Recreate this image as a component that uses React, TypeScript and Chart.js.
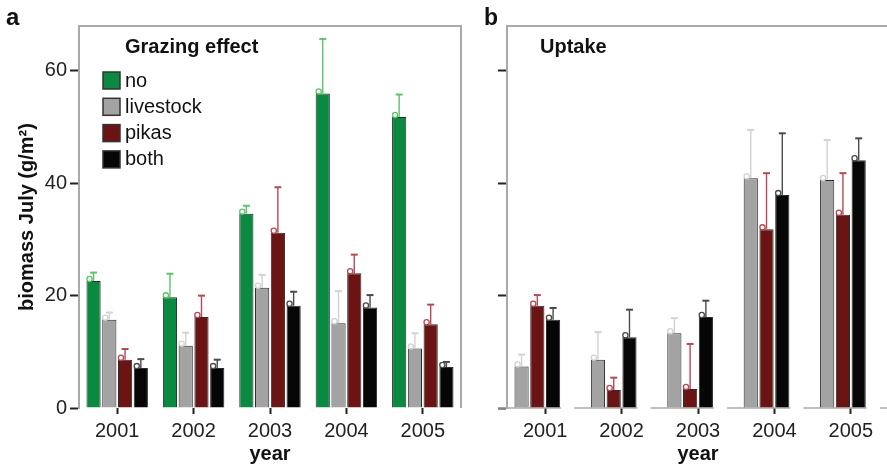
import React, { useEffect, useRef } from "react";
import { Chart, registerables } from "chart.js";

Chart.register(...registerables);

const FONT = "'Liberation Sans', Arial, Helvetica, sans-serif";

// ---- categories / labels ----
const years = ["2001", "2002", "2003", "2004", "2005"];
const seriesNames = ["no", "livestock", "pikas", "both"];
const yTickValues = [0, 20, 40, 60];

// ---- panel a: Grazing effect (mean, upper error bound) ----
const grazeNo = [22.6, 19.7, 34.6, 56.0, 51.8];
const grazeNoErr = [24.1, 23.9, 36.0, 65.7, 55.8];
const grazeLivestock = [15.7, 11.1, 21.4, 15.1, 10.6];
const grazeLivestockErr = [17.0, 13.4, 23.7, 20.8, 13.3];
const grazePikas = [8.6, 16.2, 31.2, 24.0, 14.9];
const grazePikasErr = [10.5, 20.0, 39.3, 27.3, 18.4];
const grazeBoth = [7.1, 7.1, 18.2, 17.9, 7.3];
const grazeBothErr = [8.7, 8.6, 20.7, 20.1, 8.2];

// ---- panel b: Uptake ----
const uptakeLivestock = [7.4, 8.6, 13.3, 40.9, 40.6];
const uptakeLivestockErr = [9.5, 13.5, 16.0, 49.5, 47.7];
const uptakePikas = [18.2, 3.2, 3.4, 31.8, 34.4];
const uptakePikasErr = [20.1, 5.4, 11.4, 41.8, 41.8];
const uptakeBoth = [15.7, 12.6, 16.2, 37.9, 44.1];
const uptakeBothErr = [17.8, 17.5, 19.1, 48.9, 48.0];
const uptakeNo = [null, null, null, null, null];

// ---- styles ----
const fillColors = ["#0a8a40", "#a3a3a3", "#6b1414", "#060606"];
const errColors = ["#5cc46a", "#d2d2d2", "#b54a56", "#4a4a4a"];
const frameColor = "#a9a9a9";

const errorBarPlugin = {
  id: "errorBars",
  afterDatasetsDraw(chart: any) {
    const ctx = chart.ctx;
    const yScale = chart.scales.y;
    chart.data.datasets.forEach((ds: any, i: number) => {
      if (!ds.errTop) return;
      const meta = chart.getDatasetMeta(i);
      meta.data.forEach((bar: any, j: number) => {
        const v = ds.data[j];
        if (v == null) return;
        const p = bar.getProps(["x", "y", "width"], true);
        const yTop = yScale.getPixelForValue(ds.errTop[j]);
        ctx.save();
        ctx.strokeStyle = ds.errColor;
        ctx.lineWidth = 1.4;
        ctx.beginPath();
        ctx.moveTo(p.x, p.y);
        ctx.lineTo(p.x, yTop);
        ctx.stroke();
        ctx.lineWidth = 2;
        ctx.beginPath();
        ctx.moveTo(p.x - 3.5, yTop);
        ctx.lineTo(p.x + 3.5, yTop);
        ctx.stroke();
        ctx.lineWidth = 1.3;
        ctx.beginPath();
        ctx.arc(p.x - p.width / 2 + 3, p.y - 2, 2.6, 0, Math.PI * 2);
        ctx.stroke();
        ctx.restore();
      });
    });
  },
};

function makeDataset(label: string, data: any[], err: any[] | null, idx: number) {
  return {
    label,
    data,
    errTop: err,
    errColor: errColors[idx],
    backgroundColor: fillColors[idx],
    borderColor: "#2a2a2a",
    borderWidth: 1,
  };
}

function baseOptions(padRight: number, yWidth: number, showYLabels: boolean, extraTitleY: boolean) {
  return {
    responsive: false,
    animation: false,
    layout: { padding: { top: 26, right: padRight, left: 0, bottom: 0 } },
    plugins: { legend: { display: false }, tooltip: { enabled: false } },
    datasets: { bar: { categoryPercentage: 0.825, barPercentage: 0.9 } },
    scales: {
      x: {
        grid: {
          drawOnChartArea: false,
          offset: false,
          tickLength: 6,
          tickColor: "#222",
          tickWidth: 2,
        },
        border: { display: false },
        ticks: { font: { family: FONT, size: 20 }, color: "#222", padding: 5, maxRotation: 0 },
        title: {
          display: true,
          text: "year",
          font: { family: FONT, size: 20, weight: "bold" },
          color: "#111",
          padding: { top: 0, bottom: 4 },
        },
        afterFit: (s: any) => {
          s.height = 62;
        },
      },
      y: {
        min: 0,
        max: 68,
        afterBuildTicks: (s: any) => {
          s.ticks = yTickValues.map((v) => ({ value: v }));
        },
        grid: {
          drawOnChartArea: false,
          tickLength: 9,
          tickColor: "#222",
          tickWidth: 2,
        },
        border: { display: true, color: frameColor, width: 2 },
        ticks: {
          display: showYLabels,
          font: { family: FONT, size: 20 },
          color: "#222",
          padding: 3,
        },
        title: {
          display: extraTitleY,
          text: "biomass July (g/m²)",
          font: { family: FONT, size: 20, weight: "bold" },
          color: "#111",
          padding: { top: 15, bottom: 0 },
        },
        afterFit: (s: any) => {
          s.width = yWidth;
        },
      },
    },
  };
}

const leftDeco = {
  id: "leftDeco",
  afterDraw(chart: any) {
    const { ctx, chartArea: ca } = chart;
    ctx.save();
    ctx.strokeStyle = frameColor;
    ctx.lineWidth = 2;
    ctx.beginPath();
    ctx.moveTo(ca.left - 1, ca.top);
    ctx.lineTo(ca.right, ca.top);
    ctx.lineTo(ca.right, ca.bottom);
    ctx.stroke();

    ctx.fillStyle = "#111";
    ctx.textBaseline = "alphabetic";
    ctx.textAlign = "left";
    ctx.font = `bold 24px ${FONT}`;
    ctx.fillText("a", 6, 25);
    ctx.font = `bold 20px ${FONT}`;
    ctx.fillText("Grazing effect", ca.left + 46, 53);

    // legend
    const bx = ca.left + 24;
    const by0 = 72;
    const step = 26.3;
    seriesNames.forEach((name, i) => {
      const y = by0 + i * step;
      ctx.fillStyle = fillColors[i];
      ctx.fillRect(bx, y, 17, 17);
      ctx.strokeStyle = "#333";
      ctx.lineWidth = 1.5;
      ctx.strokeRect(bx, y, 17, 17);
      ctx.fillStyle = "#111";
      ctx.font = `20px ${FONT}`;
      ctx.textBaseline = "middle";
      ctx.fillText(name, bx + 22, y + 9);
    });
    ctx.restore();
  },
};

const rightDeco = {
  id: "rightDeco",
  beforeDatasetsDraw(chart: any) {
    const { ctx, chartArea: ca, scales } = chart;
    const xs = scales.x;
    const n = years.length;
    const catW = (ca.right - ca.left) / n;
    const groupW = catW * 0.825;
    const slotW = groupW / 4;
    ctx.save();
    ctx.strokeStyle = frameColor;
    ctx.lineWidth = 1.5;
    for (let i = 0; i <= n; i++) {
      const c = i < n ? xs.getPixelForValue(i) : xs.getPixelForValue(n - 1) + catW;
      const x0 = c - groupW / 2 - slotW;
      ctx.beginPath();
      ctx.moveTo(x0, ca.bottom);
      ctx.lineTo(x0 + groupW, ca.bottom);
      ctx.stroke();
    }
    ctx.restore();
  },
  afterDraw(chart: any) {
    const { ctx, chartArea: ca, width } = chart;
    ctx.save();
    ctx.strokeStyle = frameColor;
    ctx.lineWidth = 2;
    ctx.beginPath();
    ctx.moveTo(ca.left - 1, ca.top);
    ctx.lineTo(width, ca.top);
    ctx.stroke();
    ctx.fillStyle = "#111";
    ctx.textBaseline = "alphabetic";
    ctx.textAlign = "left";
    ctx.font = `bold 23px ${FONT}`;
    ctx.fillText("b", 14, 25);
    ctx.font = `bold 20px ${FONT}`;
    ctx.fillText("Uptake", ca.left + 33, 53);
    ctx.restore();
  },
};

export default function App() {
  const leftRef = useRef<HTMLCanvasElement | null>(null);
  const rightRef = useRef<HTMLCanvasElement | null>(null);

  useEffect(() => {
    Chart.defaults.font.family = FONT;
    const left = new Chart(leftRef.current as HTMLCanvasElement, {
      type: "bar",
      data: {
        labels: years,
        datasets: [
          makeDataset(seriesNames[0], grazeNo, grazeNoErr, 0),
          makeDataset(seriesNames[1], grazeLivestock, grazeLivestockErr, 1),
          makeDataset(seriesNames[2], grazePikas, grazePikasErr, 2),
          makeDataset(seriesNames[3], grazeBoth, grazeBothErr, 3),
        ] as any,
      },
      options: baseOptions(9, 79, true, true) as any,
      plugins: [errorBarPlugin, leftDeco],
    });
    const right = new Chart(rightRef.current as HTMLCanvasElement, {
      type: "bar",
      data: {
        labels: years,
        datasets: [
          makeDataset(seriesNames[1], uptakeLivestock, uptakeLivestockErr, 1),
          makeDataset(seriesNames[2], uptakePikas, uptakePikasErr, 2),
          makeDataset(seriesNames[3], uptakeBoth, uptakeBothErr, 3),
          makeDataset(seriesNames[0], uptakeNo, null, 0),
        ] as any,
      },
      options: baseOptions(1, 37, false, false) as any,
      plugins: [errorBarPlugin, rightDeco],
    });
    return () => {
      left.destroy();
      right.destroy();
    };
  }, []);

  return (
    <div
      style={{
        position: "fixed",
        left: 0,
        top: 0,
        width: 887,
        height: 470,
        overflow: "hidden",
        background: "#fff",
      }}
    >
      <canvas ref={leftRef} width={470} height={470} style={{ position: "absolute", left: 0, top: 0 }} />
      <canvas ref={rightRef} width={420} height={470} style={{ position: "absolute", left: 470, top: 0 }} />
    </div>
  );
}
